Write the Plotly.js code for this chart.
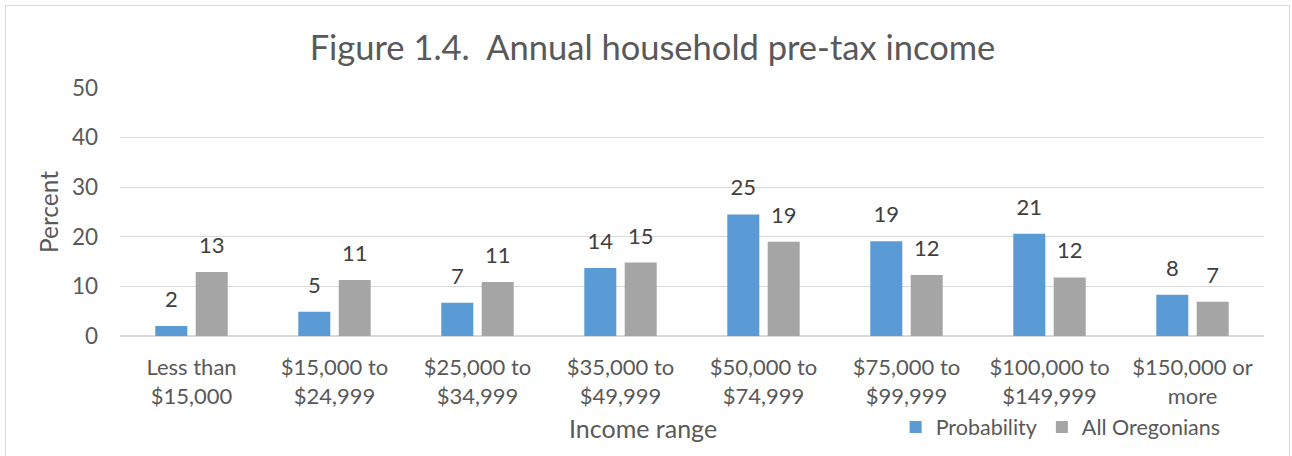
<!DOCTYPE html>
<html>
<head>
<meta charset="utf-8">
<script src="https://cdn.plot.ly/plotly-3.0.1.min.js"></script>
<style>
  html, body { margin: 0; padding: 0; background: #ffffff; }
  #wrap { position: relative; width: 1292px; height: 456px; }
  #chart { width: 1292px; height: 456px; }
  #frame { position: absolute; left: 5px; top: 5px; width: 1285px; height: 460px;
           border: 1px solid #d9d9d9; pointer-events: none; box-sizing: border-box; }
</style>
</head>
<body>
<div id="wrap">
  <div id="chart"></div>
  <div id="frame"></div>
</div>
<script>
// ---- data ----
const categories = [
  "Less than<br>$15,000",
  "$15,000 to<br>$24,999",
  "$25,000 to<br>$34,999",
  "$35,000 to<br>$49,999",
  "$50,000 to<br>$74,999",
  "$75,000 to<br>$99,999",
  "$100,000 to<br>$149,999",
  "$150,000 or<br>more"
];
const probability   = [2.0, 4.9, 6.7, 13.7, 24.5, 19.1, 20.6, 8.3];
const allOregonians = [12.9, 11.3, 10.9, 14.8, 19.0, 12.3, 11.8, 6.9];
const probabilityLabels   = ["2", "5", "7", "14", "25", "19", "21", "8"];
const allOregoniansLabels = ["13", "11", "11", "15", "19", "12", "12", "7"];
const seriesNames = ["Probability", "All Oregonians"];
const yTickVals = [0, 10, 20, 30, 40, 50];

// ---- styles ----
const FONT = "Lato, 'Open Sans', sans-serif";
const TEXT = "#595959";
const LABEL = "#404040";
const BLUE = "#5B9BD5";
const GRAY = "#A5A5A5";
const GRID = "#D9D9D9";
const BARGAP = 0.435;

function barTrace(name, y, color) {
  return {
    type: "bar", name: name, x: categories, y: y,
    marker: { color: color, line: { width: 0 } },
    hoverinfo: "skip", offsetgroup: name
  };
}
function labelTrace(name, y, labels) {
  return {
    type: "scatter", mode: "markers+text", x: categories, y: y,
    text: labels, textposition: "top center",
    textfont: { family: FONT, size: 22, color: LABEL },
    marker: { size: 20, opacity: 0 },
    showlegend: false, hoverinfo: "skip", cliponaxis: false,
    offsetgroup: name
  };
}

const data = [
  barTrace(seriesNames[0], probability, BLUE),
  barTrace(seriesNames[1], allOregonians, GRAY),
  labelTrace(seriesNames[0], probability, probabilityLabels),
  labelTrace(seriesNames[1], allOregonians, allOregoniansLabels)
];

const layout = {
  width: 1292, height: 456,
  paper_bgcolor: "#ffffff", plot_bgcolor: "#ffffff",
  margin: { l: 120, r: 28, t: 88, b: 120, pad: 0, autoexpand: false },
  font: { family: FONT, color: TEXT, size: 22 },
  title: {
    text: "Figure 1.4.&nbsp; Annual household pre-tax income",
    font: { family: FONT, size: 34.5, color: TEXT },
    xref: "container", x: 0.505, xanchor: "center",
    yref: "container", y: 1 - 48 / 456, yanchor: "middle",
    automargin: false
  },
  barmode: "group", bargap: BARGAP, bargroupgap: 0.208,
  scattermode: "group", scattergap: BARGAP,
  xaxis: {
    type: "category", showgrid: false, zeroline: false,
    showline: false, ticks: "", automargin: false,
    tickfont: { family: FONT, size: 22, color: TEXT },
    ticklabelstandoff: 16,
    fixedrange: true
  },
  yaxis: {
    range: [0, 50], tickvals: yTickVals, ticktext: yTickVals.map(String),
    showgrid: true, gridcolor: GRID, gridwidth: 1,
    zeroline: true, zerolinecolor: GRID, zerolinewidth: 1.5,
    showline: false, ticks: "", automargin: false,
    tickfont: { family: FONT, size: 22.5, color: TEXT },
    ticklabelstandoff: 21,
    title: { text: "Percent", font: { family: FONT, size: 24.5, color: TEXT }, standoff: 6 },
    fixedrange: true
  },
  legend: {
    orientation: "h", x: 0.678, xanchor: "left",
    y: (336 - 427) / 248, yanchor: "middle",
    font: { family: FONT, size: 21.5, color: TEXT },
    bgcolor: "rgba(0,0,0,0)", borderwidth: 0,
    traceorder: "normal"
  },
  annotations: [{
    text: "Income range", xref: "paper", yref: "paper",
    x: (643 - 120) / 1144, y: (336 - 428) / 248,
    xanchor: "center", yanchor: "middle", showarrow: false,
    font: { family: FONT, size: 25, color: TEXT }
  }]
};

Plotly.newPlot("chart", data, layout, { staticPlot: true, displayModeBar: false });
</script>
</body>
</html>
